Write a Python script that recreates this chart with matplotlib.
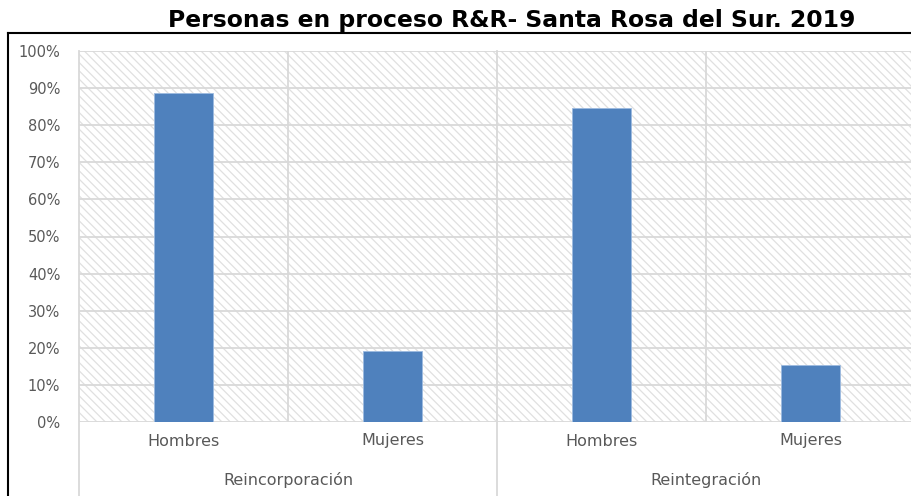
import matplotlib
matplotlib.use("Agg")
import matplotlib.pyplot as plt
from matplotlib.patches import Rectangle
from matplotlib.lines import Line2D
from matplotlib.ticker import PercentFormatter
import matplotlib.transforms as mtransforms

title = "Personas en proceso R&R- Santa Rosa del Sur. 2019"
groups = ["Reincorporación", "Reintegración"]
categories = ["Hombres", "Mujeres", "Hombres", "Mujeres"]
values = [0.887, 0.191, 0.846, 0.154]
yticks = [0.0, 0.1, 0.2, 0.3, 0.4, 0.5, 0.6, 0.7, 0.8, 0.9, 1.0]

W, H = 911, 496
fig = plt.figure(figsize=(W / 100, H / 100), dpi=100)
fig.patch.set_facecolor("white")

left_px, right_px = 79, 915
top_px, bot_px = 51, 422
ax = fig.add_axes([left_px / W, (H - bot_px) / H, (right_px - left_px) / W, (bot_px - top_px) / H])
ax.set_facecolor("white")

plt.rcParams["hatch.linewidth"] = 0.9
bg = Rectangle((0, 0), 1, 1, transform=ax.transAxes, facecolor="white",
               edgecolor="#e0e0e0", hatch="\\\\\\\\", linewidth=0, zorder=0)
ax.add_patch(bg)

x = list(range(len(categories)))
ax.bar(x, values, width=0.28, color="#4f81bd", edgecolor="#9dbbe0", linewidth=0.6, zorder=3)

label_color = "#595959"
ax.set_xlim(-0.5, len(categories) - 0.5)
ax.set_ylim(0, 1.0)
ax.set_yticks(yticks)
ax.yaxis.set_major_formatter(PercentFormatter(1.0, decimals=0))
ax.tick_params(axis="y", length=0, pad=13.5, labelsize=10.5, labelcolor=label_color)
for lbl in ax.get_yticklabels():
    lbl.set_fontfamily("DejaVu Sans")
ax.set_xticks([])
for s in ax.spines.values():
    s.set_visible(False)

for yv in yticks:
    ax.axhline(yv, color="#d9d9d9", linewidth=1.3, zorder=1)
for xv in [0.5, 2.5]:
    ax.axvline(xv, color="#d9d9d9", linewidth=1.3, zorder=1)

trans = mtransforms.blended_transform_factory(ax.transData, ax.transAxes)
ax_h_px = bot_px - top_px
def yfrac(py):
    return (bot_px - py) / ax_h_px

for xv in [-0.5, 1.5]:
    ax.add_line(Line2D([xv, xv], [1.0, yfrac(500)], transform=trans, color="#d9d9d9",
                       linewidth=1.3, clip_on=False, zorder=1))

for xi, c in zip(x, categories):
    ax.text(xi, yfrac(441), c, transform=trans, ha="center", va="center",
            fontsize=11.5, color=label_color, family="DejaVu Sans")
for gi, g in enumerate(groups):
    ax.text(gi * 2 + 0.5, yfrac(480), g, transform=trans, ha="center", va="center",
            fontsize=11.5, color=label_color, family="DejaVu Sans")

fig.text(512 / W, (H - 27) / H, title, ha="center", va="baseline", fontsize=16.9,
         fontweight="bold", family="DejaVu Sans", color="black")

fig.add_artist(Line2D([8 / W, 8 / W], [(H - 33) / H, -0.01], transform=fig.transFigure,
                      color="black", linewidth=1.5))
fig.add_artist(Line2D([8 / W, 1.01], [(H - 33) / H, (H - 33) / H], transform=fig.transFigure,
                      color="black", linewidth=1.5))

fig.savefig("out.png", dpi=100)
